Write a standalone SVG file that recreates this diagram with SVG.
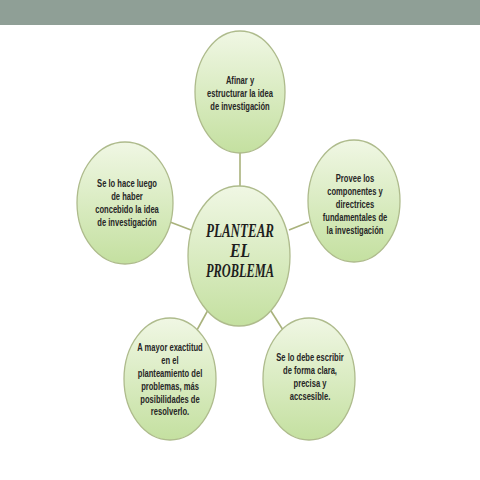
<svg xmlns="http://www.w3.org/2000/svg" width="480" height="480" viewBox="0 0 480 480">
<defs>
<linearGradient id="g" x1="0" y1="0" x2="0" y2="1">
<stop offset="0" stop-color="#f0f7e4"/>
<stop offset="1" stop-color="#c4e0a0"/>
</linearGradient>
</defs>
<style>
.e{fill:url(#g);stroke:#aebb8c;stroke-width:1.3}
.c{stroke:#a9b27c;stroke-width:1.6;fill:none}
.t{font-family:"Liberation Sans",Arial,sans-serif;font-size:11.5px;font-weight:bold;fill:#262626;text-anchor:middle}
.m{font-family:"Liberation Serif","Times New Roman",serif;font-size:19px;font-weight:bold;font-style:italic;fill:#1e1e1e;text-anchor:middle}
</style>
<rect x="0" y="0" width="480" height="480" fill="#ffffff"/>
<rect x="0" y="0" width="480" height="25" fill="#8f9f96"/>
<g id="connectors">
<line class="c" x1="240" y1="152" x2="240" y2="188"/>
<line class="c" x1="170" y1="222" x2="191" y2="230"/>
<line class="c" x1="289" y1="230" x2="309" y2="222"/>
<line class="c" x1="208" y1="310" x2="197" y2="330"/>
<line class="c" x1="271" y1="311" x2="283" y2="330"/>
</g>
<g id="top">
<ellipse class="e" cx="240" cy="92" rx="45" ry="61"/>
<g transform="translate(240,0) scale(0.66,1)">
<text class="t" x="0" y="84">Afinar y</text>
<text class="t" x="0" y="97">estructurar la idea</text>
<text class="t" x="0" y="110">de investigación</text>
</g>
</g>
<g id="left">
<ellipse class="e" cx="125" cy="203" rx="48" ry="61"/>
<g transform="translate(127,0) scale(0.66,1)">
<text class="t" x="0" y="187">Se lo hace luego</text>
<text class="t" x="0" y="200">de haber</text>
<text class="t" x="0" y="213">concebido la idea</text>
<text class="t" x="0" y="226">de investigación</text>
</g>
</g>
<g id="right">
<ellipse class="e" cx="354" cy="201" rx="46" ry="61"/>
<g transform="translate(355,0) scale(0.66,1)">
<text class="t" x="0" y="182">Provee los</text>
<text class="t" x="0" y="195">componentes y</text>
<text class="t" x="0" y="208">directrices</text>
<text class="t" x="0" y="221">fundamentales de</text>
<text class="t" x="0" y="234">la investigación</text>
</g>
</g>
<g id="center">
<ellipse class="e" cx="239" cy="256" rx="51" ry="70"/>
<text class="m" x="240" y="237" textLength="68" lengthAdjust="spacingAndGlyphs">PLANTEAR</text>
<text class="m" x="240" y="257" textLength="20" lengthAdjust="spacingAndGlyphs">EL</text>
<text class="m" x="240" y="277" textLength="68" lengthAdjust="spacingAndGlyphs">PROBLEMA</text>
</g>
<g id="bottom-left">
<ellipse class="e" cx="170" cy="379" rx="46" ry="61"/>
<g transform="translate(170,0) scale(0.66,1)">
<text class="t" x="0" y="351">A mayor exactitud</text>
<text class="t" x="0" y="364">en el</text>
<text class="t" x="0" y="377">planteamiento del</text>
<text class="t" x="0" y="390">problemas, más</text>
<text class="t" x="0" y="403">posibilidades de</text>
<text class="t" x="0" y="415">resolverlo.</text>
</g>
</g>
<g id="bottom-right">
<ellipse class="e" cx="309" cy="379" rx="46" ry="61"/>
<g transform="translate(310,0) scale(0.66,1)">
<text class="t" x="0" y="361">Se lo debe escribir</text>
<text class="t" x="0" y="374">de forma clara,</text>
<text class="t" x="0" y="387">precisa y</text>
<text class="t" x="0" y="400">accsesible.</text>
</g>
</g>
</svg>
